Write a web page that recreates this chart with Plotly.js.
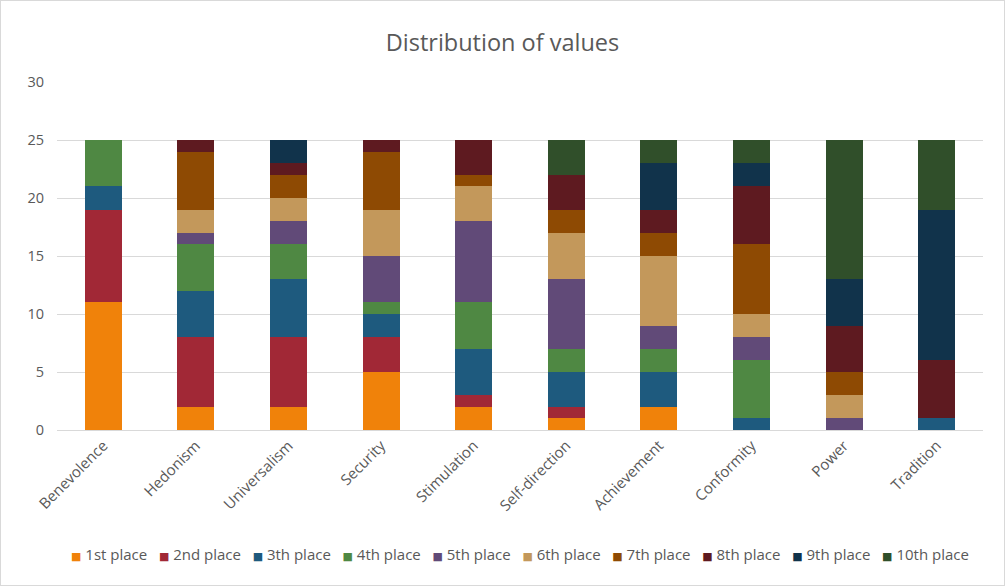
<!DOCTYPE html>
<html>
<head>
<meta charset="utf-8">
<script src="https://cdn.plot.ly/plotly-3.0.1.min.js"></script>
<style>
html,body{margin:0;padding:0;background:#fff;}
#chart{width:1003px;height:584px;border:1px solid #d9d9d9;}
</style>
</head>
<body>
<div id="chart"></div>
<script>
const categories = ["Benevolence","Hedonism","Universalism","Security","Stimulation","Self-direction","Achievement","Conformity","Power","Tradition"];
const seriesNames = ["1st place","2nd place","3th place","4th place","5th place","6th place","7th place","8th place","9th place","10th place"];
const place1  = [11, 2, 2, 5, 2, 1, 2, 0, 0, 0];
const place2  = [ 8, 6, 6, 3, 1, 1, 0, 0, 0, 0];
const place3  = [ 2, 4, 5, 2, 4, 3, 3, 1, 0, 1];
const place4  = [ 4, 4, 3, 1, 4, 2, 2, 5, 0, 0];
const place5  = [ 0, 1, 2, 4, 7, 6, 2, 2, 1, 0];
const place6  = [ 0, 2, 2, 4, 3, 4, 6, 2, 2, 0];
const place7  = [ 0, 5, 2, 5, 1, 2, 2, 6, 2, 0];
const place8  = [ 0, 1, 1, 1, 3, 3, 2, 5, 4, 5];
const place9  = [ 0, 0, 2, 0, 0, 0, 4, 2, 4, 13];
const place10 = [ 0, 0, 0, 0, 0, 3, 2, 2, 12, 6];
const seriesValues = [place1,place2,place3,place4,place5,place6,place7,place8,place9,place10];
const colors = ["#F0820A","#A12836","#1E5A7E","#4F8843","#614A78","#C3985B","#8E4A03","#5E1A20","#11334B","#304F2A"];

const traces = seriesValues.map((vals, i) => ({
  type: "bar",
  name: seriesNames[i],
  x: categories,
  y: vals,
  marker: {color: colors[i], line: {width: 0}},
  hoverinfo: "x+y+name"
}));

const font = "'Open Sans', 'Noto Sans', sans-serif";
const NB = "\u00a0";

// Legend drawn as one centred line of text: coloured square + series name
const legendText = seriesNames.map((n, i) =>
  `<span style="color:${colors[i]};font-size:11px;font-family:'DejaVu Sans'">■</span>${NB}${n}`
).join(NB + NB + NB);

const layout = {
  width: 1003, height: 584,
  barmode: "stack",
  bargap: 0.6,
  paper_bgcolor: "#fff",
  plot_bgcolor: "#fff",
  font: {family: font, color: "#595959", size: 14},
  title: {text: "Distribution of values", font: {family: font, size: 23.5, color: "#595959"}, x: 0.5, xanchor: "center", y: 0.928, yanchor: "middle"},
  margin: {l: 56, r: 21, t: 81, b: 155},
  xaxis: {
    type: "category",
    tickangle: -45,
    showgrid: false,
    showline: true, linecolor: "#d9d9d9", linewidth: 1,
    ticks: "", tickfont: {family: font, size: 15, color: "#595959"},
    automargin: false
  },
  yaxis: {
    range: [0, 30], dtick: 5,
    showgrid: true, gridcolor: "#d9d9d9", gridwidth: 1,
    zeroline: false, showline: false, ticks: "",
    tickfont: {family: font, size: 14.5, color: "#595959"},
    ticklabelstandoff: 12,
    automargin: false
  },
  showlegend: false,
  annotations: [{
    xref: "paper", yref: "paper", x: 0.5, y: -0.355, xanchor: "center", yanchor: "middle",
    text: legendText, showarrow: false,
    font: {family: font, size: 15, color: "#595959"}
  }]
};
Plotly.newPlot("chart", traces, layout, {displayModeBar: false, staticPlot: true});
</script>
</body>
</html>
